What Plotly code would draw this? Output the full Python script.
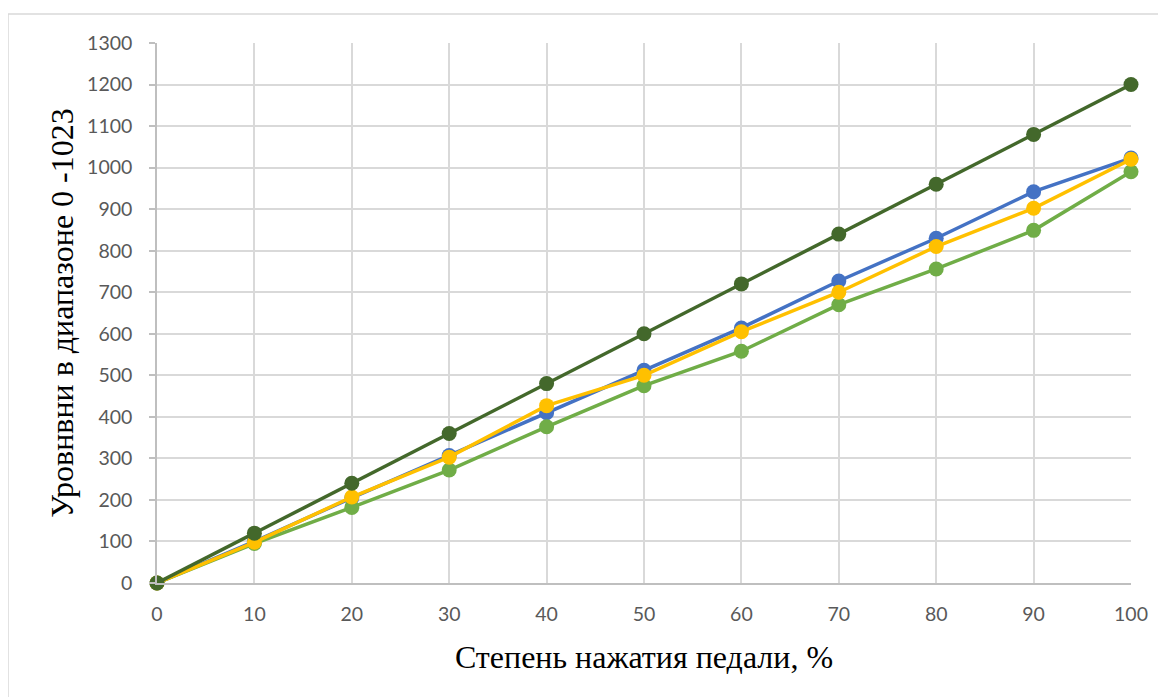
import plotly.graph_objects as go

x_pct = [0, 10, 20, 30, 40, 50, 60, 70, 80, 90, 100]
blue_vals = [0, 100, 205, 307, 410, 512, 614, 727, 830, 942, 1023]
green_vals = [0, 95, 182, 272, 376, 475, 558, 670, 756, 849, 990]
yellow_vals = [0, 98, 207, 303, 427, 500, 605, 700, 810, 902, 1020]
dark_vals = [0, 120, 240, 360, 480, 600, 720, 840, 960, 1080, 1200]

y_ticks = list(range(0, 1301, 100))
x_ticks = x_pct

series = [
    ("Ряд 1", blue_vals, "#4472C4"),
    ("Ряд 2", green_vals, "#70AD47"),
    ("Ряд 3", yellow_vals, "#FFC000"),
    ("Ряд 4", dark_vals, "#43682B"),
]

fig = go.Figure()
for name, vals, col in series:
    fig.add_trace(go.Scatter(
        x=x_pct, y=vals, name=name, mode="lines+markers",
        line=dict(color=col, width=3.5),
        marker=dict(color=col, size=15, line=dict(width=0)),
        cliponaxis=False,
    ))

tick_font = dict(family="Lato, 'Liberation Sans', sans-serif", size=19.5, color="#595959")
title_font = dict(family="'Liberation Serif', 'Times New Roman', serif", size=32, color="#000000")

# page body has an 8px margin; plot area target: x 157..1131, y 43..583
L, T = 149, 35
fig.update_layout(
    width=1158, height=689,
    margin=dict(l=L, r=1158 - L - 974, t=T, b=689 - T - 540),
    paper_bgcolor="white", plot_bgcolor="white",
    showlegend=False,
    xaxis=dict(
        range=[0, 100], tickvals=x_ticks, ticktext=[str(v) for v in x_ticks],
        showgrid=True, gridcolor="#D9D9D9", gridwidth=1.5,
        showline=True, linecolor="#BFBFBF", linewidth=1.5,
        zeroline=False, ticks="", tickfont=tick_font, ticklabelstandoff=13,
        title=dict(text="Степень нажатия педали, %", font=title_font, standoff=21),
    ),
    yaxis=dict(
        range=[0, 1300], tickvals=y_ticks, ticktext=[str(v) for v in y_ticks],
        showgrid=True, gridcolor="#D9D9D9", gridwidth=1.5,
        showline=True, linecolor="#BFBFBF", linewidth=1.5,
        zeroline=False, ticks="outside", ticklen=6, tickcolor="#BFBFBF", tickwidth=1.5,
        tickfont=tick_font, ticklabelstandoff=13,
        title=dict(text="Уровнвни в диапазоне 0 -1023", font=title_font, standoff=4),
    ),
    shapes=[dict(
        type="rect", xref="paper", yref="paper",
        x0=-149 / 974, x1=(1160 - 157) / 974,
        y0=-(697 - 583 + 10) / 540, y1=(583 - 14) / 540,
        line=dict(color="#D9D9D9", width=1.5), fillcolor="rgba(0,0,0,0)", layer="below",
    )],
)

fig.write_html("out.html")
